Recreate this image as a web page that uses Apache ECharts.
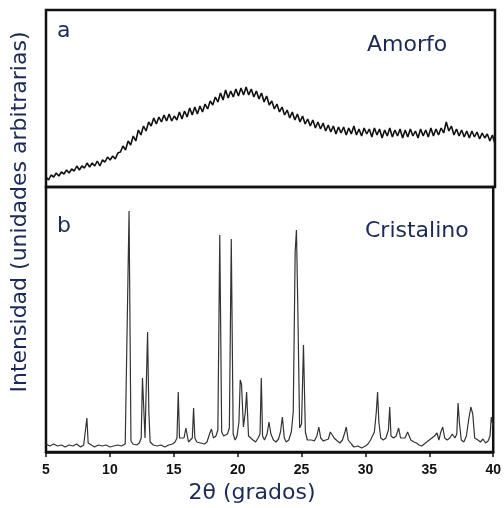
<!DOCTYPE html>
<html><head><meta charset="utf-8">
<script src="https://cdn.jsdelivr.net/npm/echarts@6/dist/echarts.min.js"></script>
<style>html,body{margin:0;padding:0;background:#fff}#c{width:504px;height:508px}</style>
</head><body><div id="c"></div>
<script>
// Panel a (amorfo): angle grid start/step and intensity values (arbitrary units)
const amorfoStart = 5.0;
const amorfoStep = 0.2;
const amorfoValues = [
  10,7,12,10,14, 11,15,13,17,14, 18,16,21,17,21, 19,24,20,24,21,
  26,21,27,25,30, 27,31,28,34,35, 41,37,46,42,51, 46,57,52,61,56,
  65,61,69,63,70, 65,72,66,73,66, 71,67,75,68,76, 70,79,72,80,73,
  81,75,83,78,86, 82,90,85,94,87, 97,89,96,90,98, 91,99,92,100,92,
  98,90,96,88,94, 85,91,82,86,78, 83,75,80,72,77, 69,75,67,73,65,
  71,63,68,61,67, 59,65,58,64,56, 62,55,61,53,60, 54,60,52,59,53,
  61,52,58,51,59, 53,58,50,59,52, 58,49,57,51,59, 50,57,51,58,49,
  57,50,58,51,56, 49,58,51,57,50, 59,51,58,52,59, 54,65,56,61,52,
  58,51,57,50,56, 49,56,50,55,48, 54,49,53,46,52, 43
];
// Panel b (cristalino): angles and intensities
const cristalinoAngles = [
  5.0,5.3,5.6,5.9,6.2,6.5,6.8,7.1,7.4,7.7,7.95,8.1,8.2,8.3,8.45,8.8,9.1,9.4,9.7,10.0,
  10.3,10.6,10.9,11.2,11.35,11.5,11.65,11.8,12.1,12.3,12.45,12.55,12.65,12.75,12.85,12.95,13.05,13.15,13.4,13.7,
  14.0,14.3,14.6,14.9,15.1,15.25,15.35,15.45,15.6,15.8,15.95,16.05,16.15,16.3,16.45,16.55,16.65,16.8,17.1,17.4,
  17.6,17.8,17.95,18.1,18.3,18.45,18.6,18.75,18.9,19.05,19.2,19.35,19.5,19.65,19.8,19.95,20.1,20.2,20.3,20.45,
  20.6,20.7,20.85,21.0,21.2,21.4,21.6,21.75,21.85,21.95,22.1,22.3,22.45,22.6,22.8,23.0,23.2,23.35,23.5,23.65,
  23.8,24.0,24.2,24.35,24.5,24.6,24.7,24.85,25.0,25.15,25.3,25.45,25.6,25.8,26.0,26.2,26.35,26.5,26.7,26.9,
  27.1,27.25,27.4,27.55,27.8,28.0,28.2,28.4,28.5,28.65,28.9,29.1,29.4,29.7,30.0,30.2,30.4,30.55,30.7,30.85,
  30.95,31.05,31.2,31.4,31.6,31.8,31.9,32.0,32.2,32.4,32.6,32.75,32.9,33.1,33.3,33.4,33.55,33.8,34.0,34.2,
  34.4,34.6,34.8,35.0,35.2,35.4,35.6,35.75,35.9,36.05,36.2,36.4,36.6,36.8,37.0,37.15,37.25,37.35,37.5,37.7,
  37.9,38.1,38.25,38.4,38.55,38.8,39.0,39.2,39.4,39.6,39.75,39.85,40.0
];
const cristalinoValues = [
  8,6,8,6,7,5,7,6,8,5,7,9,34,9,7,5,7,6,7,5,
  6,7,6,8,10,241,11,8,7,9,14,74,72,14,12,120,40,10,7,6,
  7,5,7,8,10,14,60,14,12,14,24,24,10,12,14,44,14,10,9,8,
  10,18,23,14,16,22,217,20,16,14,18,24,213,18,12,16,30,72,68,25,
  40,60,16,14,12,10,14,18,74,16,12,18,30,18,12,10,13,20,35,14,
  10,12,20,40,200,222,150,24,28,107,20,12,10,12,11,16,25,14,11,12,
  13,20,22,14,11,9,12,20,25,12,8,5,6,4,6,8,12,16,20,40,
  60,30,14,12,14,22,45,16,14,16,24,14,12,14,20,22,12,10,9,7,
  6,8,10,12,14,16,19,12,20,25,14,12,14,18,14,18,49,30,12,10,
  16,34,45,38,14,12,10,13,9,11,16,35,25
];
const xTicks = [5, 10, 15, 20, 25, 30, 35, 40];
const labelA = 'a', titleA = 'Amorfo';
const labelB = 'b', titleB = 'Cristalino';
const xTitle = '2θ (grados)';
const yTitle = 'Intensidad (unidades arbitrarias)';

const dataA = amorfoValues.map((v, i) => [+(amorfoStart + i * amorfoStep).toFixed(2), v]);
const dataB = cristalinoAngles.map((x, i) => [x, cristalinoValues[i]]);

const navy = '#1b2a57';
const chart = echarts.init(document.getElementById('c'), null, {renderer: 'canvas'});
chart.setOption({
  animation: false,
  backgroundColor: '#fff',
  grid: [
    {left: 46, right: 9, top: 10, height: 177, show: true, borderColor: '#111', borderWidth: 2.5, backgroundColor: 'transparent'},
    {left: 46, right: 9, top: 187, height: 265, show: true, borderColor: '#111', borderWidth: 2.5, backgroundColor: 'transparent'}
  ],
  xAxis: [
    {gridIndex: 0, type: 'value', min: xTicks[0], max: xTicks[xTicks.length - 1], interval: 5,
     axisLine: {show: false}, axisTick: {show: false}, axisLabel: {show: false}, splitLine: {show: false}},
    {gridIndex: 1, type: 'value', min: xTicks[0], max: xTicks[xTicks.length - 1], interval: 5,
     axisLine: {show: true, lineStyle: {color: '#111', width: 2.5}},
     axisTick: {show: true, inside: false, length: 5, lineStyle: {color: '#111', width: 1.5}},
     axisLabel: {show: true, margin: 11, color: '#111', fontSize: 14, fontWeight: 'bold', fontFamily: 'Liberation Sans, Arial, sans-serif',
       formatter: v => xTicks.includes(v) ? String(v) : ''},
     splitLine: {show: false}}
  ],
  yAxis: [
    {gridIndex: 0, type: 'value', min: 0, max: 177, show: false, splitLine: {show: false}},
    {gridIndex: 1, type: 'value', min: 0, max: 265, show: false, splitLine: {show: false}}
  ],
  series: [
    {type: 'line', xAxisIndex: 0, yAxisIndex: 0, data: dataA, showSymbol: false, symbol: 'none', smooth: false,
     lineStyle: {color: '#111', width: 1.6}},
    {type: 'line', xAxisIndex: 1, yAxisIndex: 1, data: dataB, showSymbol: false, symbol: 'none', smooth: false,
     lineStyle: {color: '#333', width: 1.2}}
  ],
  graphic: [
    {type: 'text', left: 57, top: 20, style: {text: labelA, fill: navy, font: '22px DejaVu Sans'}},
    {type: 'text', left: 367, top: 34, style: {text: titleA, fill: navy, font: '22px DejaVu Sans'}},
    {type: 'text', left: 57, top: 215, style: {text: labelB, fill: navy, font: '22px DejaVu Sans'}},
    {type: 'text', left: 365, top: 220, style: {text: titleB, fill: navy, font: '22px DejaVu Sans'}},
    {type: 'text', x: 252, y: 493, style: {text: xTitle, fill: navy, font: '22px DejaVu Sans', align: 'center', verticalAlign: 'middle'}},
    {type: 'text', x: 20, y: 212, rotation: Math.PI / 2, style: {text: yTitle, fill: navy, font: '22px DejaVu Sans', align: 'center', verticalAlign: 'middle'}}
  ]
});
</script></body></html>
